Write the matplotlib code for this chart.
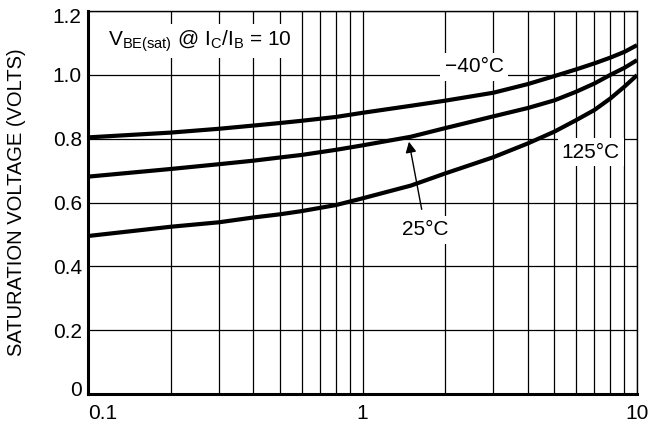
import numpy as np
import matplotlib.pyplot as plt
import matplotlib.transforms as mtransforms
from matplotlib.ticker import LogLocator, NullFormatter, FixedLocator

plt.rcParams['font.family'] = ['Liberation Sans', 'DejaVu Sans']

# collector current (A) and saturation voltage for three temperatures
ic = [0.1, 0.2, 0.3, 0.4, 0.5, 0.6, 0.8, 1, 1.5, 2, 3, 4, 5, 6, 7, 8, 9, 10]
v_m40 = [0.804, 0.819, 0.831, 0.841, 0.849, 0.856, 0.868, 0.881, 0.903, 0.919,
         0.944, 0.971, 0.996, 1.017, 1.036, 1.054, 1.072, 1.093]
v_25 = [0.681, 0.705, 0.72, 0.731, 0.741, 0.749, 0.765, 0.779, 0.806, 0.833,
        0.870, 0.896, 0.920, 0.947, 0.973, 1.0, 1.022, 1.046]
v_125 = [0.495, 0.524, 0.538, 0.553, 0.563, 0.573, 0.592, 0.613, 0.653, 0.691,
         0.742, 0.785, 0.822, 0.858, 0.89, 0.926, 0.963, 0.999]

y_ticks = [0, 0.2, 0.4, 0.6, 0.8, 1.0, 1.2]
y_labels = ['0', '0.2', '0.4', '0.6', '0.8', '1.0', '1.2']

fig = plt.figure(figsize=(6.52, 4.28), dpi=100)
ax = fig.add_axes([88 / 652, 34 / 428, 549 / 652, 383 / 428])

for v in (v_m40, v_25, v_125):
    ax.plot(ic, v, color='black', lw=3.0, solid_capstyle='butt', zorder=3)

ax.set_xscale('log')
ax.set_xlim(0.1, 10)
ax.set_ylim(0, 1.2)
ax.xaxis.set_major_locator(FixedLocator([0.1, 1, 10]))
ax.xaxis.set_minor_locator(LogLocator(base=10, subs=np.arange(2, 10)))
ax.xaxis.set_minor_formatter(NullFormatter())
ax.set_xticklabels(['0.1', '1', '10'])
ax.set_yticks(y_ticks)
ax.set_yticklabels(y_labels)
ax.tick_params(which='both', length=0, labelsize=15)
ax.tick_params(axis='x', pad=7.5)
ax.tick_params(axis='y', pad=4.5)

# end labels sit inside the axis range like the datasheet
xlabs = ax.get_xticklabels()
xlabs[0].set_horizontalalignment('left')
ylabs = ax.get_yticklabels()
ylabs[0].set_transform(ylabs[0].get_transform() +
                       mtransforms.ScaledTranslation(0, 5 / 100, fig.dpi_scale_trans))
ylabs[-1].set_transform(ylabs[-1].get_transform() +
                        mtransforms.ScaledTranslation(0, -4.5 / 100, fig.dpi_scale_trans))

ax.grid(which='both', axis='x', color='black', lw=0.9)
ax.grid(which='major', axis='y', color='black', lw=0.9)

for side in ('left', 'bottom'):
    ax.spines[side].set_linewidth(2.2)
for side in ('top', 'right'):
    ax.spines[side].set_linewidth(1.0)

ax.set_ylabel('SATURATION VOLTAGE (VOLTS)', fontsize=14.5, labelpad=19)

box = dict(facecolor='white', edgecolor='none', pad=3)
ax.text(0.1183, 1.105, r'V$_{\mathregular{BE(sat)}}$ @ I$_{\mathregular{C}}$/I$_{\mathregular{B}}$ = 10',
        fontsize=15, va='center', ha='left', bbox=box, zorder=4)
ax.text(2.55, 1.025, '\u221240\u00b0C', fontsize=15, ha='center', va='center', bbox=box, zorder=4)
ax.text(6.79, 0.758, '125\u00b0C', fontsize=15, ha='center', va='center', bbox=box, zorder=4)
ax.text(1.69, 0.514, '25\u00b0C', fontsize=15, ha='center', va='center', bbox=box, zorder=4)
ax.annotate('', xy=(1.47, 0.799), xytext=(1.65, 0.57),
            arrowprops=dict(arrowstyle='-|>', color='black', lw=1.0, mutation_scale=16), zorder=5)

fig.savefig('out.png', dpi=100)
